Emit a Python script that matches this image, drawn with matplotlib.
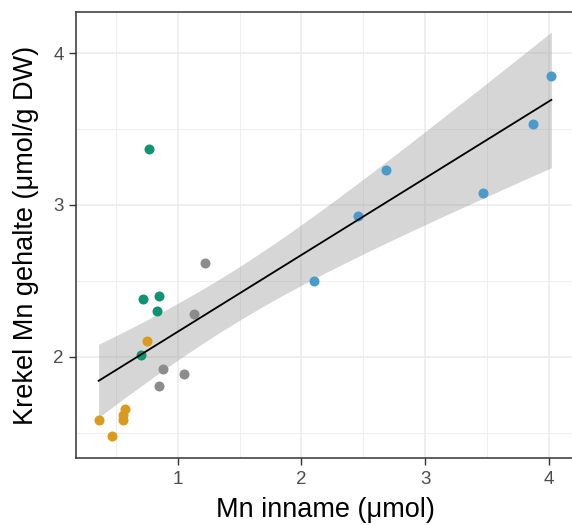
import numpy as np
import matplotlib
matplotlib.use('Agg')
import matplotlib.pyplot as plt

plt.rcParams['font.family'] = ['Liberation Sans', 'DejaVu Sans']

# data, one group per colour
blue_x = [4.02, 3.87, 3.47, 2.68, 2.46, 2.10]
blue_y = [3.85, 3.53, 3.08, 3.23, 2.93, 2.50]
green_x = [0.77, 0.715, 0.85, 0.83, 0.70]
green_y = [3.37, 2.38, 2.40, 2.30, 2.01]
gray_x = [1.22, 1.13, 0.88, 1.05, 0.85]
gray_y = [2.62, 2.28, 1.92, 1.89, 1.81]
orange_x = [0.755, 0.575, 0.56, 0.555, 0.36, 0.465]
orange_y = [2.105, 1.66, 1.62, 1.585, 1.585, 1.48]

groups = [
    (blue_x, blue_y, '#4A9ACB'),
    (green_x, green_y, '#0E9470'),
    (gray_x, gray_y, '#8C8C8C'),
    (orange_x, orange_y, '#DA9A1C'),
]

xlabel = 'Mn inname (\u03bcmol)'
ylabel = 'Krekel Mn gehalte (\u03bcmol/g DW)'

# linear fit + 95% confidence band over all points
x = np.array(blue_x + green_x + gray_x + orange_x)
y = np.array(blue_y + green_y + gray_y + orange_y)
n = len(x)
b, a = np.polyfit(x, y, 1)
res = y - (a + b * x)
s = np.sqrt(np.sum(res**2) / (n - 2))
tval = 2.086  # t(0.975, df=20)
xs = np.linspace(x.min(), x.max(), 100)
ys = a + b * xs
se = s * np.sqrt(1. / n + (xs - x.mean())**2 / np.sum((x - x.mean())**2))

fig = plt.figure(figsize=(5.72, 5.25), dpi=100)
ax = fig.add_axes([76 / 572, 67 / 525, 498 / 572, 446 / 525])

ax.fill_between(xs, ys - tval * se, ys + tval * se, color='#999999', alpha=0.4,
                lw=0, zorder=2)
for gx, gy, c in groups:
    ax.scatter(gx, gy, s=52, color=c, lw=0, zorder=3)
ax.plot(xs, ys, color='black', lw=1.3, zorder=4)

ax.set_xlim(0.177, 4.203)
ax.set_ylim(1.335, 4.27)
ax.set_xticks([1, 2, 3, 4])
ax.set_yticks([2, 3, 4])
ax.set_xticks([0.5, 1.5, 2.5, 3.5], minor=True)
ax.set_yticks([1.5, 2.5, 3.5], minor=True)
ax.grid(which='major', color='#EBEBEB', lw=1.1, zorder=0)
ax.grid(which='minor', color='#EBEBEB', lw=0.6, zorder=0)
ax.set_axisbelow(True)
ax.tick_params(which='major', length=5, width=1, color='#333333',
               labelcolor='#4D4D4D', labelsize=13.5, pad=4)
ax.tick_params(which='minor', length=0)
for sp in ax.spines.values():
    sp.set_color('#333333')
    sp.set_linewidth(1.1)

ax.set_xlabel(xlabel, fontsize=19.5, labelpad=7)
ax.set_ylabel(ylabel, fontsize=19.5, labelpad=10)

fig.savefig('out.png', dpi=100)
